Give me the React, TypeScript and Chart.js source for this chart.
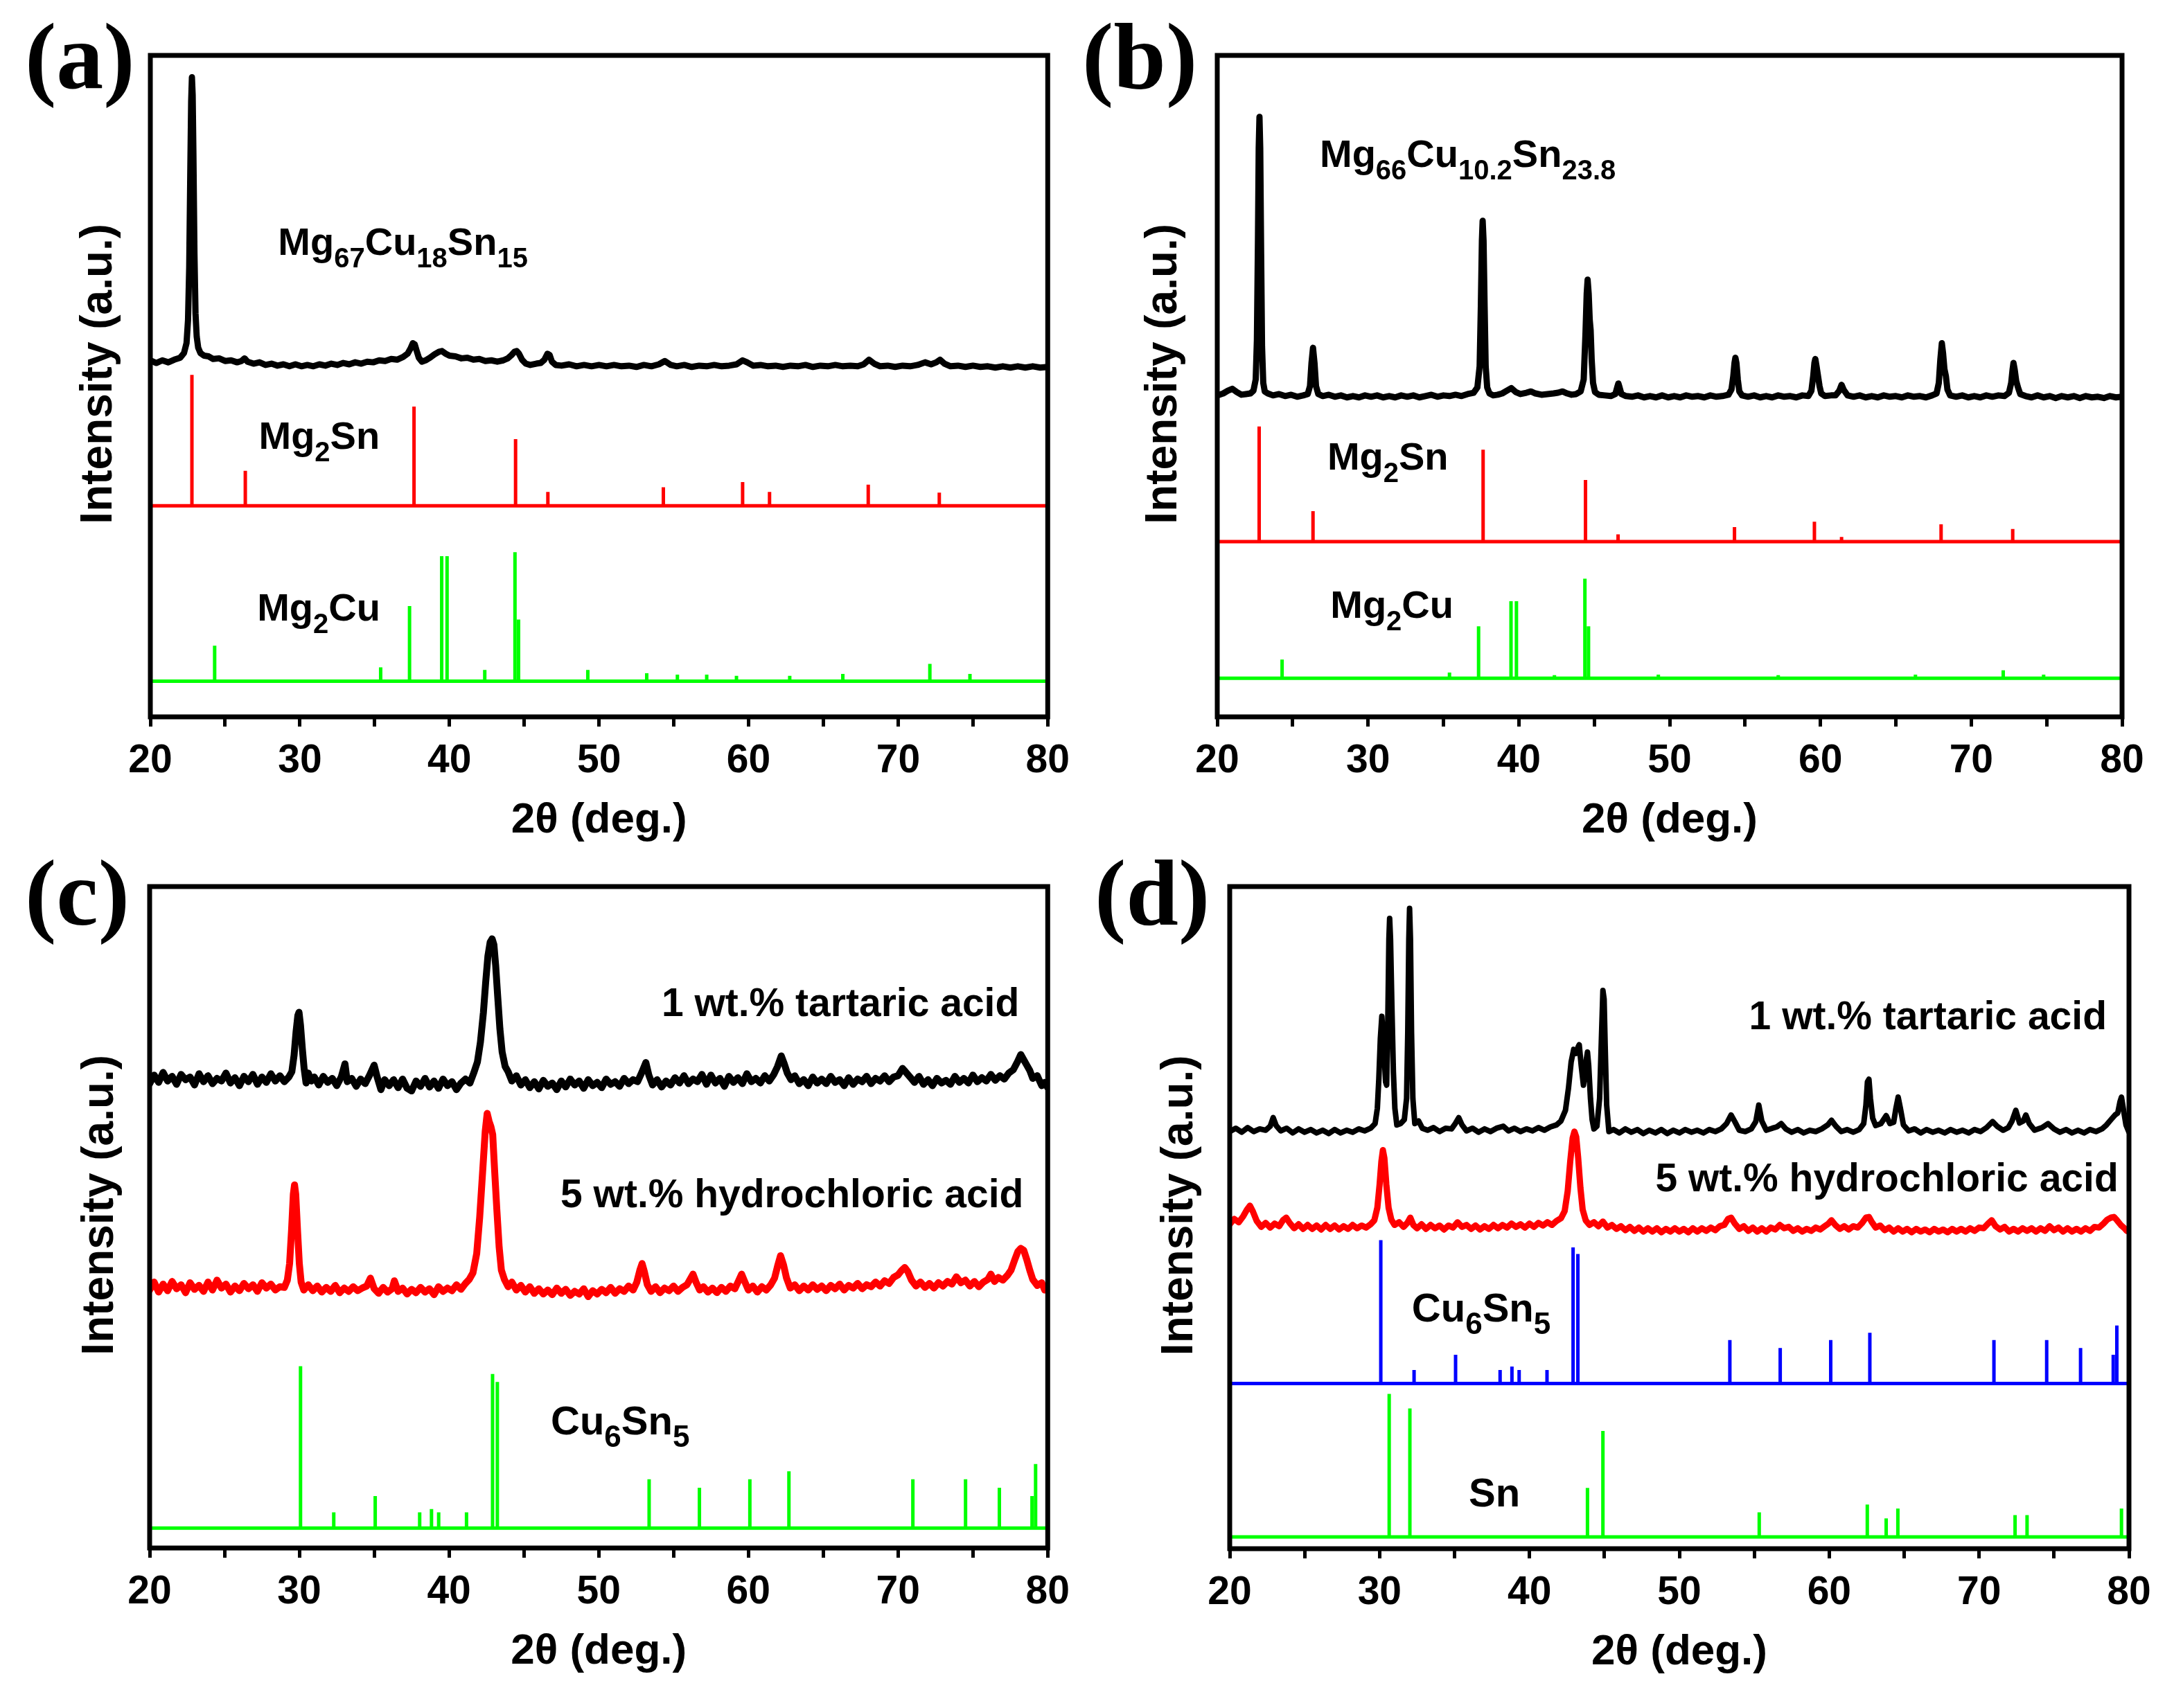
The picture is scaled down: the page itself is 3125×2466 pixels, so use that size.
import React, { useEffect, useRef } from 'react';
import { Chart, registerables } from 'chart.js';

Chart.register(...registerables);

const FONT = "'Liberation Sans', Arial, Helvetica, sans-serif";
const SERIF = "'Liberation Serif', 'Times New Roman', serif";

// ---------- axis ----------
const X_MIN = 20;
const X_MAX = 80;
const xMajorTicks = [20, 30, 40, 50, 60, 70, 80];
const xTitle = '2θ (deg.)';
const yTitle = '  Intensity (a.u.)';

// ---------- panel (a) ----------
const aMg67Cu18Sn15: [number, number][] = [
  [20.0,53.9],[20.4,53.5],[20.8,53.9],[21.2,53.6],[21.6,54.0],[22.0,54.3],[22.25,55.0],[22.42,56.5],[22.52,60],[22.6,68],[22.67,82],[22.73,93],[22.78,96.7],[22.83,94],[22.88,85],[22.95,70],[23.02,61],[23.1,57.5],[23.2,55.8],[23.35,55.0],[23.6,54.6],[23.9,54.5],[24.2,54.1],[24.6,54.2],[25.0,53.8],[25.4,53.9],[25.8,53.6],[26.1,53.8],[26.3,54.2],[26.5,53.7],[26.9,53.4],[27.3,53.6],[27.7,53.2],[28.1,53.4],[28.5,53.1],[28.9,53.3],[29.3,53.0],[29.7,53.3],[30.1,53.0],[30.5,53.2],[30.9,53.0],[31.3,53.3],[31.7,53.1],[32.1,53.4],[32.5,53.2],[32.9,53.5],[33.3,53.3],[33.7,53.6],[34.1,53.4],[34.5,53.7],[34.9,53.6],[35.3,53.9],[35.7,53.8],[36.1,54.1],[36.5,54.0],[36.9,54.4],[37.2,54.9],[37.4,55.7],[37.55,56.5],[37.68,56.3],[37.8,55.4],[37.95,54.3],[38.15,53.7],[38.4,53.9],[38.7,54.3],[39.0,54.8],[39.3,55.2],[39.5,55.3],[39.75,54.9],[40.0,54.6],[40.4,54.5],[40.8,54.2],[41.2,54.3],[41.6,54.0],[42.0,54.1],[42.4,53.8],[42.8,53.9],[43.2,53.7],[43.6,53.9],[43.9,54.2],[44.15,54.7],[44.35,55.2],[44.5,55.3],[44.65,54.9],[44.85,54.0],[45.1,53.4],[45.4,53.2],[45.8,53.4],[46.1,53.5],[46.35,54.0],[46.55,54.9],[46.7,54.7],[46.85,53.7],[47.1,53.2],[47.5,53.1],[48.0,53.3],[48.5,53.0],[49.0,53.2],[49.5,53.0],[50.0,53.2],[50.5,53.0],[51.0,53.2],[51.5,53.0],[52.0,53.1],[52.5,52.9],[53.0,53.2],[53.5,53.0],[54.0,53.3],[54.4,53.8],[54.8,53.2],[55.2,53.0],[55.7,53.2],[56.2,52.9],[56.7,53.1],[57.2,53.0],[57.7,53.2],[58.2,53.0],[58.7,53.1],[59.2,53.3],[59.6,53.9],[59.9,53.6],[60.3,53.1],[60.8,53.2],[61.3,53.0],[61.8,53.1],[62.3,52.9],[62.8,53.1],[63.3,53.0],[63.8,53.2],[64.3,52.9],[64.8,53.1],[65.3,53.0],[65.8,53.2],[66.3,53.0],[66.8,53.1],[67.3,53.0],[67.7,53.3],[68.05,54.0],[68.4,53.4],[68.8,53.0],[69.3,53.1],[69.8,52.9],[70.3,53.1],[70.8,53.0],[71.3,53.2],[71.8,53.6],[72.2,53.3],[72.55,53.6],[72.8,54.0],[73.1,53.4],[73.5,53.0],[74.0,53.1],[74.5,52.9],[75.0,53.1],[75.5,52.9],[76.0,53.0],[76.5,52.8],[77.0,53.0],[77.5,52.8],[78.0,53.0],[78.5,52.8],[79.0,53.0],[79.5,52.8],[80.0,52.9]
];

// reference pattern positions (shared by panels a & b)
const mg2snPeaks = [22.78, 26.35, 37.63, 44.42, 46.58, 54.3, 59.6, 61.4, 68.0, 72.75];
const mg2cuPeaks = [24.3, 35.4, 37.33, 39.48, 39.84, 42.36, 44.38, 44.62, 49.25, 53.19, 55.24, 57.2, 59.19, 62.75, 66.3, 72.12, 74.8];

const aMg2snBase = 31.9;
const aMg2snHeights = [19.8, 5.3, 15.0, 10.1, 2.1, 2.8, 3.6, 2.1, 3.2, 2.0];
const aMg2cuBase = 5.4;
const aMg2cuHeights = [5.35, 2.1, 11.35, 18.9, 18.9, 1.7, 19.5, 9.3, 1.7, 1.2, 1.0, 1.0, 0.8, 0.8, 1.1, 2.6, 1.1];

// ---------- panel (b) ----------
const bMg66Cu10Sn24: [number, number][] = [
  [20.0,48.6],[20.4,48.9],[20.7,49.3],[21.0,49.6],[21.3,49.1],[21.6,48.7],[21.9,48.8],[22.2,48.9],[22.4,49.3],[22.55,51],[22.63,57],[22.7,72],[22.75,86],[22.8,90.7],[22.85,86],[22.91,70],[22.97,56],[23.05,50.5],[23.15,49.2],[23.35,48.9],[23.7,48.6],[24.1,48.8],[24.5,48.5],[24.9,48.7],[25.3,48.4],[25.7,48.6],[26.0,48.8],[26.15,50],[26.25,53.5],[26.35,55.8],[26.45,53.5],[26.55,50],[26.7,48.8],[27.0,48.5],[27.4,48.7],[27.8,48.4],[28.2,48.6],[28.6,48.3],[29.0,48.5],[29.4,48.3],[29.8,48.6],[30.2,48.4],[30.6,48.6],[31.0,48.3],[31.4,48.5],[31.8,48.3],[32.2,48.6],[32.6,48.4],[33.0,48.6],[33.4,48.3],[33.8,48.5],[34.2,48.7],[34.6,48.4],[35.0,48.6],[35.4,48.5],[35.8,48.7],[36.2,48.5],[36.6,48.8],[37.0,49.0],[37.25,49.8],[37.4,53],[37.48,62],[37.55,72],[37.6,75.0],[37.66,72],[37.73,62],[37.8,53],[37.9,49.8],[38.05,48.9],[38.3,48.6],[38.6,48.7],[38.9,48.9],[39.2,49.3],[39.5,49.7],[39.8,49.1],[40.1,48.8],[40.5,49.0],[40.8,49.2],[41.1,48.9],[41.5,48.7],[41.9,48.8],[42.3,48.9],[42.6,49.0],[42.9,49.2],[43.2,48.9],[43.5,48.7],[43.8,48.8],[44.1,49.2],[44.3,51],[44.42,58],[44.5,64],[44.56,66.1],[44.63,64],[44.7,60],[44.76,58.5],[44.83,54],[44.92,50.5],[45.05,49.1],[45.3,48.7],[45.7,48.6],[46.1,48.5],[46.4,48.8],[46.52,49.8],[46.6,50.4],[46.68,49.8],[46.8,48.8],[47.1,48.5],[47.5,48.4],[47.9,48.6],[48.3,48.3],[48.7,48.5],[49.1,48.3],[49.5,48.6],[49.9,48.3],[50.3,48.5],[50.7,48.3],[51.1,48.6],[51.5,48.4],[51.9,48.5],[52.3,48.3],[52.7,48.6],[53.1,48.4],[53.5,48.5],[53.9,48.7],[54.1,49.5],[54.22,51.5],[54.3,53.5],[54.36,54.3],[54.43,53.5],[54.52,51],[54.62,49.2],[54.8,48.6],[55.2,48.4],[55.6,48.6],[56.0,48.3],[56.4,48.5],[56.8,48.3],[57.2,48.6],[57.6,48.4],[58.0,48.5],[58.4,48.3],[58.8,48.6],[59.2,48.5],[59.4,49.3],[59.52,51.5],[59.6,53.5],[59.66,54.1],[59.74,53],[59.84,51.5],[59.94,50],[60.05,48.9],[60.3,48.5],[60.7,48.6],[61.0,48.6],[61.25,49.3],[61.4,50.2],[61.55,49.4],[61.8,48.6],[62.2,48.4],[62.6,48.6],[63.0,48.3],[63.4,48.5],[63.8,48.3],[64.2,48.6],[64.6,48.4],[65.0,48.5],[65.4,48.3],[65.8,48.6],[66.2,48.4],[66.6,48.5],[67.0,48.3],[67.4,48.6],[67.7,48.9],[67.85,50.5],[67.95,54],[68.05,56.5],[68.13,55],[68.22,52.6],[68.32,51.5],[68.42,49.5],[68.6,48.6],[69.0,48.4],[69.4,48.6],[69.8,48.3],[70.2,48.5],[70.6,48.3],[71.0,48.6],[71.4,48.4],[71.8,48.6],[72.2,48.5],[72.5,49.0],[72.65,50.5],[72.74,52.5],[72.8,53.5],[72.88,52.5],[72.98,50.8],[73.1,49.8],[73.25,48.8],[73.6,48.5],[74.0,48.3],[74.4,48.6],[74.8,48.3],[75.2,48.5],[75.6,48.2],[76.0,48.5],[76.4,48.3],[76.8,48.5],[77.2,48.2],[77.6,48.5],[78.0,48.3],[78.4,48.4],[78.8,48.2],[79.2,48.5],[79.6,48.3],[80.0,48.4]
];
const bMg2snBase = 26.5;
const bMg2snHeights = [17.4, 4.6, 13.9, 9.3, 1.1, 2.2, 3.0, 0.7, 2.6, 1.9];
const bMg2cuBase = 5.83;
const bMg2cuHeights = [2.83, 0.87, 7.87, 11.67, 11.67, 0.47, 15.07, 7.87, 0.57, 0, 0, 0.47, 0, 0, 0.57, 1.22, 0.57];

// ---------- panel (c) ----------
const cTartaric: [number, number][] = [
  [20.0,70.2],[20.3,71.5],[20.6,70.4],[20.9,71.9],[21.2,70.6],[21.5,71.3],[21.8,70.1],[22.1,71.6],[22.4,70.8],[22.7,71.2],[23.0,70.0],[23.3,71.7],[23.6,70.5],[23.9,71.4],[24.2,70.2],[24.5,71.0],[24.8,70.6],[25.1,71.8],[25.4,70.3],[25.7,71.1],[26.0,69.9],[26.3,71.3],[26.6,70.5],[26.9,71.6],[27.2,70.1],[27.5,71.2],[27.8,70.4],[28.1,71.7],[28.4,70.6],[28.7,71.4],[29.0,70.5],[29.3,71.2],[29.5,72.0],[29.65,74.5],[29.78,78],[29.9,80.5],[29.98,81.0],[30.08,79],[30.2,75.5],[30.32,72.5],[30.45,70.3],[30.6,71.8],[30.8,70.6],[31.0,71.2],[31.3,70.0],[31.6,71.3],[31.9,70.4],[32.2,71.0],[32.5,69.9],[32.8,71.2],[33.05,73.2],[33.2,70.5],[33.5,71.0],[33.8,69.8],[34.1,70.9],[34.4,70.2],[34.7,71.5],[35.0,73.0],[35.2,71.2],[35.45,69.3],[35.7,70.8],[36.0,69.9],[36.3,70.8],[36.6,69.6],[36.9,70.9],[37.2,69.5],[37.5,69.1],[37.8,70.6],[38.1,69.8],[38.4,71.0],[38.7,69.7],[39.0,70.6],[39.3,69.5],[39.6,70.9],[39.9,69.9],[40.2,70.5],[40.5,69.3],[40.8,70.3],[41.1,70.9],[41.4,70.3],[41.65,71.8],[41.9,73.5],[42.1,76.5],[42.3,81],[42.45,85.5],[42.6,89.5],[42.75,91.6],[42.88,92.1],[43.0,91.2],[43.12,88],[43.25,83.5],[43.4,78.5],[43.55,75],[43.75,72.8],[43.95,72.0],[44.2,70.6],[44.5,71.4],[44.8,70.0],[45.1,70.8],[45.4,69.6],[45.7,70.5],[46.0,69.4],[46.3,70.7],[46.6,69.8],[46.9,70.3],[47.2,69.3],[47.5,70.6],[47.8,69.7],[48.1,70.9],[48.4,70.0],[48.7,70.6],[49.0,69.5],[49.3,70.8],[49.6,69.9],[49.9,70.4],[50.2,69.6],[50.5,70.9],[50.8,70.1],[51.1,70.5],[51.4,69.8],[51.7,71.0],[52.0,70.2],[52.3,70.8],[52.6,70.5],[52.9,72.0],[53.15,73.4],[53.35,71.5],[53.6,70.0],[53.9,70.8],[54.2,69.7],[54.5,70.6],[54.8,70.0],[55.1,71.1],[55.4,70.3],[55.7,71.4],[56.0,70.2],[56.3,70.9],[56.6,70.5],[56.9,71.6],[57.2,70.1],[57.5,71.5],[57.8,70.3],[58.1,71.0],[58.4,69.8],[58.7,71.3],[59.0,70.4],[59.3,71.1],[59.6,70.2],[59.9,71.7],[60.2,70.5],[60.5,71.0],[60.8,70.3],[61.1,71.4],[61.4,70.6],[61.7,71.6],[61.95,72.8],[62.2,74.4],[62.4,73.2],[62.6,71.8],[62.85,70.8],[63.1,71.4],[63.4,70.2],[63.7,70.8],[64.0,69.9],[64.3,71.2],[64.6,70.3],[64.9,70.9],[65.2,70.2],[65.5,71.3],[65.8,70.4],[66.1,70.8],[66.4,69.9],[66.7,71.1],[67.0,70.1],[67.3,70.9],[67.6,70.5],[67.9,71.3],[68.2,70.2],[68.5,71.0],[68.8,70.6],[69.1,71.4],[69.4,70.5],[69.7,71.2],[70.0,71.4],[70.3,72.5],[70.5,72.0],[70.8,71.2],[71.1,70.4],[71.4,71.3],[71.7,70.1],[72.0,70.8],[72.3,69.9],[72.6,71.0],[72.9,70.3],[73.2,70.7],[73.5,70.1],[73.8,71.3],[74.1,70.4],[74.4,71.0],[74.7,70.3],[75.0,71.5],[75.3,70.5],[75.6,71.1],[75.9,70.6],[76.2,71.6],[76.5,70.7],[76.8,71.4],[77.1,70.9],[77.4,71.8],[77.7,72.3],[78.0,73.6],[78.2,74.6],[78.4,73.8],[78.6,73.0],[78.8,72.2],[79.0,71.0],[79.3,71.4],[79.6,69.9],[79.8,70.4],[80.0,69.6]
];
const cHydrochloric: [number, number][] = [
  [20.0,39.0],[20.3,40.2],[20.6,38.7],[20.9,39.9],[21.2,38.9],[21.5,40.3],[21.8,39.2],[22.1,39.8],[22.4,38.6],[22.7,40.1],[23.0,39.1],[23.3,39.7],[23.6,38.8],[23.9,40.2],[24.2,39.0],[24.5,40.5],[24.8,39.3],[25.1,39.9],[25.4,38.7],[25.7,39.6],[26.0,38.9],[26.3,40.0],[26.6,39.2],[26.9,39.8],[27.2,38.8],[27.5,40.1],[27.8,39.3],[28.1,39.9],[28.4,39.0],[28.7,39.5],[29.0,39.4],[29.2,40.5],[29.35,43],[29.48,48],[29.6,53.5],[29.68,54.9],[29.76,53.5],[29.88,48],[30.0,43],[30.12,40.2],[30.3,39.0],[30.6,39.8],[30.9,38.9],[31.2,39.6],[31.5,38.7],[31.8,39.4],[32.1,38.8],[32.4,39.7],[32.7,38.6],[33.0,39.3],[33.3,38.8],[33.6,39.5],[33.9,38.9],[34.2,39.3],[34.5,39.6],[34.75,40.8],[35.0,39.2],[35.3,38.5],[35.6,39.4],[35.9,38.7],[36.2,39.2],[36.35,40.4],[36.6,38.8],[36.9,39.3],[37.2,38.4],[37.5,39.1],[37.8,38.6],[38.1,39.4],[38.4,38.7],[38.7,39.2],[39.0,38.3],[39.3,39.5],[39.6,38.8],[39.9,39.3],[40.2,38.9],[40.5,39.8],[40.8,39.1],[41.1,40.0],[41.35,40.6],[41.6,41.6],[41.85,44.5],[42.05,50],[42.25,57],[42.42,63],[42.55,65.7],[42.68,64.5],[42.8,63.7],[42.92,62.5],[43.05,57],[43.2,51],[43.35,45.5],[43.5,42],[43.7,40.6],[43.95,39.5],[44.2,40.2],[44.5,39.0],[44.8,39.7],[45.1,38.7],[45.4,39.5],[45.7,38.5],[46.0,39.2],[46.3,38.4],[46.6,39.0],[46.9,38.3],[47.2,39.3],[47.5,38.5],[47.8,39.1],[48.1,38.2],[48.4,38.8],[48.7,38.4],[49.0,39.2],[49.3,38.0],[49.6,38.9],[49.9,38.4],[50.2,39.1],[50.5,38.6],[50.8,39.4],[51.1,38.5],[51.4,39.2],[51.7,38.8],[52.0,39.6],[52.3,39.0],[52.55,40.2],[52.75,42.0],[52.9,43.0],[53.05,41.8],[53.25,39.8],[53.5,38.8],[53.8,39.5],[54.1,38.6],[54.4,39.3],[54.7,38.9],[55.0,39.6],[55.3,38.8],[55.6,39.4],[55.9,39.8],[56.15,40.8],[56.3,41.4],[56.5,40.2],[56.75,39.0],[57.0,39.5],[57.3,38.7],[57.6,39.3],[57.9,38.6],[58.2,39.4],[58.5,38.8],[58.8,39.6],[59.1,39.2],[59.35,40.4],[59.55,41.4],[59.75,40.3],[60.0,39.0],[60.3,39.6],[60.6,38.7],[60.9,39.5],[61.2,39.0],[61.5,39.8],[61.75,40.8],[61.95,42.6],[62.15,44.2],[62.35,42.8],[62.55,40.8],[62.8,39.3],[63.1,39.8],[63.4,38.9],[63.7,39.6],[64.0,39.0],[64.3,39.8],[64.6,39.1],[64.9,39.6],[65.2,38.9],[65.5,39.7],[65.8,39.2],[66.1,39.9],[66.4,39.0],[66.7,39.7],[67.0,39.3],[67.3,40.0],[67.6,39.2],[67.9,39.8],[68.2,39.5],[68.5,40.2],[68.8,39.6],[69.1,40.4],[69.4,40.0],[69.7,40.9],[70.0,41.3],[70.25,42.0],[70.45,42.4],[70.65,41.8],[70.9,40.5],[71.2,39.6],[71.5,40.2],[71.8,39.4],[72.1,40.0],[72.4,39.3],[72.7,40.1],[73.0,39.6],[73.3,40.3],[73.6,39.9],[73.9,41.0],[74.2,40.1],[74.5,40.5],[74.8,39.6],[75.1,40.3],[75.4,39.5],[75.7,40.2],[76.0,40.6],[76.2,41.4],[76.45,40.3],[76.7,40.9],[77.0,40.5],[77.3,41.2],[77.55,42.0],[77.8,43.6],[78.0,44.8],[78.2,45.3],[78.4,45.0],[78.6,43.6],[78.8,42.0],[79.0,40.6],[79.3,39.7],[79.6,40.1],[79.8,39.0],[80.0,39.4]
];

// Cu6Sn5 reference positions (shared by panels c & d)
const cu6sn5Peaks = [30.08, 32.3, 35.07, 38.04, 38.83, 39.31, 41.17, 42.91, 43.23, 53.37, 56.73, 60.1, 62.71, 70.99, 74.51, 76.77, 78.95, 79.19];
const cCu6sn5Base = 3.0;
const cCu6sn5Heights = [24.5, 2.4, 4.85, 2.4, 2.9, 2.4, 2.4, 23.3, 22.1, 7.4, 6.1, 7.4, 8.6, 7.4, 7.4, 6.1, 4.85, 9.7];

// ---------- panel (d) ----------
const dTartaric: [number, number][] = [
  [20.0,63.0],[20.4,63.5],[20.8,62.9],[21.2,63.6],[21.6,63.0],[22.0,63.4],[22.4,63.2],[22.7,63.8],[22.9,65.1],[23.1,63.9],[23.4,63.1],[23.8,63.5],[24.2,62.8],[24.6,63.4],[25.0,62.9],[25.4,63.3],[25.8,62.8],[26.2,63.2],[26.6,62.7],[27.0,63.3],[27.4,62.8],[27.8,63.2],[28.2,62.9],[28.6,63.4],[29.0,63.1],[29.4,63.5],[29.7,64.2],[29.85,66.5],[29.95,71],[30.05,77],[30.15,80.4],[30.25,77],[30.4,70.5],[30.47,70.0],[30.55,80],[30.62,92],[30.67,95.2],[30.73,92],[30.82,82],[30.92,72],[31.02,66.5],[31.15,64.0],[31.4,64.2],[31.65,64.8],[31.8,68],[31.88,78],[31.95,92],[32.0,96.7],[32.06,92],[32.13,78],[32.22,68],[32.35,64.2],[32.6,64.6],[32.85,63.5],[33.2,63.2],[33.6,63.6],[34.0,63.0],[34.4,63.5],[34.8,63.4],[35.05,64.2],[35.28,65.1],[35.5,64.0],[35.8,63.1],[36.2,63.5],[36.6,62.9],[37.0,63.4],[37.4,63.0],[37.8,63.5],[38.25,63.8],[38.6,63.1],[39.0,63.5],[39.4,63.0],[39.8,63.4],[40.2,63.1],[40.6,63.6],[41.0,63.2],[41.4,63.7],[41.8,64.0],[42.1,64.6],[42.4,66.2],[42.6,69.5],[42.78,73.5],[42.95,75.4],[43.1,74.8],[43.25,75.8],[43.32,76.1],[43.45,73],[43.6,70],[43.7,71.5],[43.8,74],[43.87,75.0],[43.95,73],[44.07,68],[44.18,64.8],[44.3,63.4],[44.5,63.8],[44.68,68],[44.8,77],[44.9,84.3],[44.98,83],[45.05,76],[45.15,67],[45.3,63.0],[45.6,63.3],[46.0,62.8],[46.4,63.4],[46.8,62.9],[47.2,63.3],[47.6,62.7],[48.0,63.2],[48.4,62.8],[48.8,63.3],[49.2,62.7],[49.6,63.2],[50.0,62.8],[50.4,63.3],[50.8,62.9],[51.2,63.2],[51.6,62.8],[52.0,63.3],[52.4,63.0],[52.8,63.4],[53.15,64.2],[53.45,65.5],[53.7,64.5],[54.0,63.2],[54.4,63.0],[54.8,63.4],[55.1,64.5],[55.3,67.0],[55.5,64.6],[55.8,63.2],[56.2,63.5],[56.5,63.7],[56.8,64.2],[57.1,63.4],[57.5,62.9],[57.9,63.3],[58.3,62.8],[58.7,63.2],[59.1,63.0],[59.5,63.4],[59.9,64.0],[60.15,64.7],[60.45,63.8],[60.8,63.0],[61.2,63.3],[61.6,62.9],[62.0,63.3],[62.3,64.2],[62.45,67],[62.55,70.5],[62.65,70.9],[62.75,68],[62.9,65],[63.1,63.9],[63.45,64.2],[63.8,65.4],[64.05,64.2],[64.3,64.4],[64.45,66.5],[64.6,68.2],[64.75,66.5],[64.95,64.0],[65.3,63.1],[65.7,63.4],[66.1,62.8],[66.5,63.3],[66.9,62.9],[67.3,63.2],[67.7,62.8],[68.1,63.3],[68.5,62.9],[68.9,63.2],[69.3,62.8],[69.7,63.3],[70.1,63.0],[70.5,63.6],[70.9,64.5],[71.2,63.8],[71.6,63.2],[71.95,63.6],[72.2,64.6],[72.45,66.2],[72.7,64.3],[72.95,64.6],[73.12,65.5],[73.35,64.2],[73.7,63.2],[74.2,63.6],[74.6,64.2],[75.0,63.4],[75.4,62.9],[75.8,63.3],[76.2,62.8],[76.6,63.2],[77.0,62.8],[77.4,63.3],[77.8,63.0],[78.2,63.4],[78.5,64.0],[78.8,64.8],[79.07,65.5],[79.25,65.8],[79.4,67.5],[79.5,68.2],[79.62,66.5],[79.8,64.0],[80.0,62.9]
];
const dHydrochloric: [number, number][] = [
  [20.0,49.0],[20.3,49.8],[20.6,49.3],[20.9,50.2],[21.15,51.2],[21.35,51.8],[21.55,50.9],[21.8,49.5],[22.1,48.6],[22.4,49.2],[22.7,48.5],[23.0,49.1],[23.3,48.7],[23.55,49.6],[23.77,50.0],[24.0,49.2],[24.3,48.4],[24.6,49.0],[24.9,48.3],[25.2,48.9],[25.5,48.3],[25.8,48.8],[26.1,48.2],[26.4,48.9],[26.7,48.3],[27.0,48.8],[27.3,48.2],[27.6,48.7],[27.9,48.3],[28.2,48.9],[28.5,48.4],[28.8,48.8],[29.1,48.5],[29.4,49.0],[29.65,49.6],[29.85,51.5],[30.0,55],[30.12,58.5],[30.22,60.2],[30.32,59],[30.45,55],[30.6,51.5],[30.78,49.7],[31.0,48.9],[31.3,49.3],[31.6,48.6],[31.85,49.2],[32.05,50.0],[32.25,48.9],[32.5,48.4],[32.8,49.0],[33.1,48.3],[33.4,48.9],[33.7,48.4],[34.0,48.8],[34.3,48.2],[34.6,48.8],[34.9,48.5],[35.2,49.3],[35.5,48.6],[35.8,48.9],[36.1,48.3],[36.4,48.8],[36.7,48.2],[37.0,48.7],[37.3,48.3],[37.6,48.9],[37.9,48.4],[38.2,48.9],[38.5,48.5],[38.8,49.1],[39.1,48.6],[39.4,49.0],[39.7,48.5],[40.0,49.1],[40.3,48.6],[40.6,49.2],[40.9,48.8],[41.2,49.3],[41.5,48.9],[41.8,49.5],[42.1,49.9],[42.35,51.0],[42.55,54],[42.72,58.5],[42.88,62.0],[43.0,63.0],[43.12,62.2],[43.25,59],[43.4,54.5],[43.55,51.2],[43.75,49.6],[44.0,48.9],[44.3,49.3],[44.6,48.7],[44.9,49.4],[45.2,48.5],[45.5,48.9],[45.8,48.3],[46.1,48.7],[46.4,48.1],[46.7,48.6],[47.0,48.0],[47.3,48.5],[47.6,47.9],[47.9,48.4],[48.2,47.9],[48.5,48.4],[48.8,47.8],[49.1,48.3],[49.4,47.9],[49.7,48.4],[50.0,47.9],[50.3,48.3],[50.6,47.8],[50.9,48.4],[51.2,47.9],[51.5,48.4],[51.8,48.0],[52.1,48.5],[52.4,48.1],[52.7,48.7],[53.0,48.9],[53.25,49.8],[53.45,50.0],[53.7,49.1],[54.0,48.3],[54.3,48.7],[54.6,48.0],[54.9,48.5],[55.2,47.9],[55.5,48.4],[55.8,47.9],[56.1,48.5],[56.4,48.2],[56.7,48.9],[57.0,48.4],[57.3,48.6],[57.6,48.0],[57.9,48.4],[58.2,47.9],[58.5,48.3],[58.8,48.0],[59.1,48.5],[59.4,48.2],[59.7,48.7],[59.95,49.1],[60.15,49.6],[60.4,48.9],[60.7,48.3],[61.0,48.7],[61.3,48.2],[61.6,48.7],[61.9,48.5],[62.2,49.2],[62.45,50.0],[62.65,50.1],[62.85,49.3],[63.1,48.5],[63.4,48.8],[63.7,48.1],[64.0,48.5],[64.3,47.9],[64.6,48.4],[64.9,47.9],[65.2,48.3],[65.5,47.8],[65.8,48.3],[66.1,47.9],[66.4,48.2],[66.7,47.8],[67.0,48.3],[67.3,47.9],[67.6,48.2],[67.9,47.8],[68.2,48.3],[68.5,47.9],[68.8,48.3],[69.1,47.9],[69.4,48.4],[69.7,48.0],[70.0,48.5],[70.3,48.4],[70.6,49.1],[70.84,49.6],[71.1,48.7],[71.4,48.2],[71.7,48.6],[72.0,47.9],[72.3,48.3],[72.6,47.9],[72.9,48.4],[73.2,48.0],[73.5,48.4],[73.8,47.9],[74.1,48.4],[74.4,48.0],[74.7,48.7],[75.0,48.1],[75.3,48.5],[75.6,47.9],[75.9,48.4],[76.2,47.9],[76.5,48.3],[76.8,47.9],[77.1,48.4],[77.4,48.0],[77.7,48.6],[78.0,48.5],[78.3,49.1],[78.55,49.7],[78.8,50.0],[79.0,50.1],[79.2,49.6],[79.45,48.9],[79.7,48.4],[79.85,48.0],[80.0,47.9]
];
const dCu6sn5Base = 24.95;
const dCu6sn5Heights = [21.65, 2.05, 4.35, 2.05, 2.55, 2.05, 2.05, 20.55, 19.55, 6.55, 5.35, 6.55, 7.65, 6.55, 6.55, 5.35, 4.35, 8.75];
const snPeaks = [30.64, 32.02, 43.87, 44.9, 55.33, 62.54, 63.8, 64.58, 72.4, 73.2, 79.5];
const dSnBase = 1.78;
const dSnHeights = [21.6, 19.4, 7.4, 16.0, 3.7, 4.9, 2.8, 4.3, 3.3, 3.3, 4.3];

// ---------- colours ----------
const BLACK = '#000000';
const RED = '#ff0000';
const GREEN = '#00ff00';
const BLUE = '#0000ff';

type Part = [string, boolean];
type Label = { x: number; y: number; parts: Part[]; size: number; sub: number };
type Trace = { data: [number, number][]; color: string; width: number };
type Sticks = { pos: number[]; h: number[]; base: number; color: string };
type Panel = {
  id: string;
  letter: string;
  left: number; top: number; width: number; height: number;
  area: { l: number; t: number; r: number; b: number };
  letterPos: [number, number];
  yTitlePad: number;
  traces: Trace[];
  sticks: Sticks[];
  labels: Label[];
};

const mgLabel = (a: string, b: string, c: string): Part[] => [['Mg', false], [a, true], ['Cu', false], [b, true], ['Sn', false], [c, true]];

const panels: Panel[] = [
  {
    id: 'a', letter: '(a)', left: 0, top: 0, width: 1560, height: 1240,
    area: { l: 217, t: 80, r: 1517, b: 1035 }, letterPos: [36, 127], yTitlePad: 105,
    traces: [{ data: aMg67Cu18Sn15, color: BLACK, width: 9 }],
    sticks: [
      { pos: mg2snPeaks, h: aMg2snHeights, base: aMg2snBase, color: RED },
      { pos: mg2cuPeaks, h: aMg2cuHeights, base: aMg2cuBase, color: GREEN },
    ],
    labels: [
      { x: 28.54, y: 69.8, parts: mgLabel('67', '18', '15'), size: 56, sub: 40 },
      { x: 27.25, y: 40.5, parts: [['Mg', false], ['2', true], ['Sn', false]], size: 56, sub: 40 },
      { x: 27.14, y: 14.55, parts: [['Mg', false], ['2', true], ['Cu', false]], size: 56, sub: 40 },
    ],
  },
  {
    id: 'b', letter: '(b)', left: 1560, top: 0, width: 1565, height: 1240,
    area: { l: 197, t: 80, r: 1503, b: 1035 }, letterPos: [2, 127], yTitlePad: 82,
    traces: [{ data: bMg66Cu10Sn24, color: BLACK, width: 9 }],
    sticks: [
      { pos: mg2snPeaks, h: bMg2snHeights, base: bMg2snBase, color: RED },
      { pos: mg2cuPeaks, h: bMg2cuHeights, base: bMg2cuBase, color: GREEN },
    ],
    labels: [
      { x: 26.8, y: 83.1, parts: mgLabel('66', '10.2', '23.8'), size: 56, sub: 40 },
      { x: 27.3, y: 37.4, parts: [['Mg', false], ['2', true], ['Sn', false]], size: 56, sub: 40 },
      { x: 27.5, y: 15.0, parts: [['Mg', false], ['2', true], ['Cu', false]], size: 56, sub: 40 },
    ],
  },
  {
    id: 'c', letter: '(c)', left: 0, top: 1240, width: 1560, height: 1226,
    area: { l: 216, t: 40, r: 1515, b: 995 }, letterPos: [36, 95], yTitlePad: 107,
    traces: [
      { data: cTartaric, color: BLACK, width: 10 },
      { data: cHydrochloric, color: RED, width: 10 },
    ],
    sticks: [{ pos: cu6sn5Peaks, h: cCu6sn5Heights, base: cCu6sn5Base, color: GREEN }],
    labels: [
      { x: 54.2, y: 80.4, parts: [['1 wt.% tartaric acid', false]], size: 57, sub: 40 },
      { x: 47.45, y: 51.5, parts: [['5 wt.% hydrochloric acid', false]], size: 57, sub: 40 },
      { x: 46.8, y: 17.2, parts: [['Cu', false], ['6', true], ['Sn', false], ['5', true]], size: 58, sub: 44 },
    ],
  },
  {
    id: 'd', letter: '(d)', left: 1560, top: 1240, width: 1565, height: 1226,
    area: { l: 215, t: 40, r: 1513, b: 996 }, letterPos: [20, 95], yTitlePad: 105,
    traces: [
      { data: dTartaric, color: BLACK, width: 8 },
      { data: dHydrochloric, color: RED, width: 9 },
    ],
    sticks: [
      { pos: cu6sn5Peaks, h: dCu6sn5Heights, base: dCu6sn5Base, color: BLUE },
      { pos: snPeaks, h: dSnHeights, base: dSnBase, color: GREEN },
    ],
    labels: [
      { x: 54.65, y: 78.45, parts: [['1 wt.% tartaric acid', false]], size: 57, sub: 40 },
      { x: 48.4, y: 54.0, parts: [['5 wt.% hydrochloric acid', false]], size: 57, sub: 40 },
      { x: 32.15, y: 34.3, parts: [['Cu', false], ['6', true], ['Sn', false], ['5', true]], size: 58, sub: 44 },
      { x: 35.95, y: 6.4, parts: [['Sn', false]], size: 58, sub: 44 },
    ],
  },
];

const SUB_DROP = 18;

function stickPoints(pos: number[], h: number[], base: number) {
  const pts: { x: number; y: number }[] = [{ x: X_MIN, y: base }];
  pos.forEach((p, i) => {
    pts.push({ x: p, y: base }, { x: p, y: base + h[i] }, { x: p, y: base });
  });
  pts.push({ x: X_MAX, y: base });
  return pts;
}

function makePlugin(panel: Panel) {
  return {
    id: 'panelDecor' + panel.id,
    afterDatasetsDraw(chart: any) {
      const { ctx } = chart;
      const xs = chart.scales.x;
      const ys = chart.scales.y;
      ctx.save();
      ctx.fillStyle = '#000';
      ctx.textAlign = 'left';
      ctx.textBaseline = 'alphabetic';
      for (const lab of panel.labels) {
        let px = xs.getPixelForValue(lab.x);
        const py = ys.getPixelForValue(lab.y);
        for (const [t, sub] of lab.parts) {
          ctx.font = `bold ${sub ? lab.sub : lab.size}px ${FONT}`;
          ctx.fillText(t, px, sub ? py + SUB_DROP : py);
          px += ctx.measureText(t).width;
        }
      }
      const a = chart.chartArea;
      ctx.lineWidth = 7;
      ctx.strokeStyle = '#000';
      ctx.strokeRect(a.left, a.top, a.right - a.left, a.bottom - a.top);
      ctx.font = `bold 136px ${SERIF}`;
      ctx.fillText(panel.letter, panel.letterPos[0], panel.letterPos[1]);
      ctx.restore();
    },
  };
}

function PanelChart({ panel }: { panel: Panel }) {
  const ref = useRef<HTMLCanvasElement | null>(null);
  useEffect(() => {
    if (!ref.current) return;
    const datasets: any[] = [];
    panel.sticks.forEach((s) => {
      datasets.push({
        data: stickPoints(s.pos, s.h, s.base),
        borderColor: s.color,
        borderWidth: 5,
        pointRadius: 0,
        tension: 0,
        borderCapStyle: 'butt',
        borderJoinStyle: 'miter',
        fill: false,
      });
    });
    panel.traces.forEach((t) => {
      datasets.push({
        data: t.data.map(([x, y]) => ({ x, y })),
        borderColor: t.color,
        borderWidth: t.width,
        pointRadius: 0,
        tension: 0,
        borderJoinStyle: 'round',
        borderCapStyle: 'round',
        fill: false,
      });
    });
    const xAxisH = panel.height - panel.area.b;
    const chart = new Chart(ref.current, {
      type: 'line',
      data: { datasets },
      options: {
        animation: false,
        responsive: false,
        devicePixelRatio: 1,
        parsing: true,
        layout: { padding: { left: 0, top: panel.area.t, right: panel.width - panel.area.r, bottom: 0 } },
        plugins: { legend: { display: false }, tooltip: { enabled: false } },
        scales: {
          x: {
            type: 'linear',
            min: X_MIN,
            max: X_MAX,
            position: 'bottom',
            afterFit: (s: any) => { s.height = xAxisH; },
            ticks: {
              stepSize: 5,
              autoSkip: false,
              maxRotation: 0,
              padding: 16,
              color: '#000',
              font: { family: FONT, size: 57, weight: 'bold' },
              callback: (v: any) => (xMajorTicks.includes(Number(v)) ? String(v) : ''),
            },
            grid: { display: true, drawOnChartArea: false, drawTicks: true, tickLength: 14, tickWidth: 5, tickColor: '#000' },
            border: { display: false },
            title: {
              display: true,
              text: xTitle,
              color: '#000',
              font: { family: FONT, size: 62, weight: 'bold' },
              padding: { top: 0, bottom: Math.max(0, xAxisH - 187) },
            },
          },
          y: {
            type: 'linear',
            min: 0,
            max: 100,
            position: 'left',
            afterFit: (s: any) => { s.width = panel.area.l; },
            ticks: { display: false },
            grid: { display: false },
            border: { display: false },
            title: {
              display: true,
              text: yTitle,
              color: '#000',
              font: { family: FONT, size: 64, weight: 'bold' },
              padding: { top: panel.yTitlePad, bottom: 0 },
            },
          },
        },
      } as any,
      plugins: [makePlugin(panel)],
    });
    return () => chart.destroy();
  }, [panel]);
  return (
    <canvas
      ref={ref}
      width={panel.width}
      height={panel.height}
      style={{ position: 'absolute', left: panel.left, top: panel.top, width: panel.width, height: panel.height }}
    />
  );
}

export default function App() {
  return (
    <div style={{ position: 'absolute', left: 0, top: 0, width: 3125, height: 2466, background: '#fff', overflow: 'hidden' }}>
      {panels.map((p) => (
        <PanelChart key={p.id} panel={p} />
      ))}
    </div>
  );
}
